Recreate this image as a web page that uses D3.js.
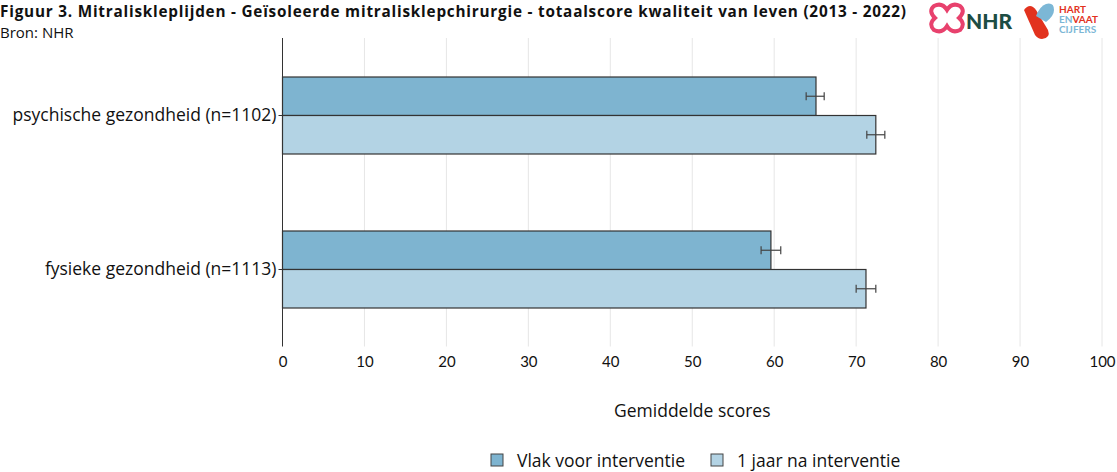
<!DOCTYPE html>
<html><head><meta charset="utf-8">
<script src="https://cdn.jsdelivr.net/npm/d3@7"></script>
<style>body{margin:0;background:#fff}svg{display:block;font-family:"Open Sans",Lato,sans-serif}</style>
</head><body>
<svg id="c" width="1117" height="472"></svg>
<script>
const categories = ["psychische gezondheid (n=1102)", "fysieke gezondheid (n=1113)"];
const seriesNames = ["Vlak voor interventie", "1 jaar na interventie"];
const valuesBefore = [65.1, 59.6];
const errBefore = [[63.9, 66.1], [58.4, 60.8]];
const valuesAfter = [72.4, 71.2];
const errAfter = [[71.3, 73.5], [70.0, 72.4]];
const xTicks = [0, 10, 20, 30, 40, 50, 60, 70, 80, 90, 100];
const colors = ["#7eb4d0", "#b3d3e4"];

const svg = d3.select("#c");
const x = d3.scaleLinear().domain([0, 100]).range([282.5, 1102]);
const y = d3.scaleBand().domain(categories).range([38.5, 346.5]).paddingInner(0.5).paddingOuter(0.25);
const sub = d3.scaleBand().domain([0, 1]).range([0, y.bandwidth()]);

const txtFont = '"Open Sans",sans-serif';
// title
svg.append("text").attr("x", 0).attr("y", 16.5).attr("font-weight", "bold").attr("font-size", 15.3)
  .attr("textLength", 906).attr("lengthAdjust", "spacing")
  .attr("fill", "#111").text("Figuur 3. Mitraliskleplijden - Geïsoleerde mitralisklepchirurgie - totaalscore kwaliteit van leven (2013 - 2022)");
svg.append("text").attr("x", 0).attr("y", 38).attr("font-size", 15).attr("fill", "#111").text("Bron: NHR");

// grid
svg.append("g").selectAll("line").data(xTicks.slice(1)).join("line")
  .attr("x1", d => x(d)).attr("x2", d => x(d)).attr("y1", 38).attr("y2", 346.5)
  .attr("stroke", "#e6e6e6").attr("stroke-width", 1);

// x axis labels
const xa = svg.append("g").attr("transform", "translate(0,346.5)")
  .call(d3.axisBottom(x).tickValues(xTicks).tickSize(0).tickPadding(10));
xa.select(".domain").remove();
xa.selectAll("text").attr("font-size", 15).attr("fill", "#111").attr("font-family", "Lato,sans-serif");

// bars
const data = categories.map((c, i) => ({c, v: [valuesBefore[i], valuesAfter[i]], e: [errBefore[i], errAfter[i]]}));
const g = svg.append("g");
data.forEach(d => {
  [0, 1].forEach(k => {
    const yy = y(d.c) + sub(k);
    g.append("rect").attr("x", x(0)).attr("y", yy).attr("width", x(d.v[k]) - x(0)).attr("height", sub.bandwidth())
      .attr("fill", colors[k]).attr("stroke", "#333").attr("stroke-width", 1.2);
    const cy = yy + sub.bandwidth() / 2;
    g.append("line").attr("x1", x(d.e[k][0])).attr("x2", x(d.e[k][1])).attr("y1", cy).attr("y2", cy).attr("stroke", "#444").attr("stroke-width", 1.2);
    d.e[k].forEach(ev => g.append("line").attr("x1", x(ev)).attr("x2", x(ev)).attr("y1", cy - 4).attr("y2", cy + 4).attr("stroke", "#444").attr("stroke-width", 1.2));
  });
});

// y axis
const ya = svg.append("g").attr("transform", `translate(${x(0)},0)`).call(d3.axisLeft(y).tickSize(4).tickPadding(2));
ya.select(".domain").attr("d", `M0,38V346.5`).attr("stroke", "#333");
ya.selectAll(".tick line").attr("stroke", "#333");
ya.selectAll("text").attr("font-size", 17.5).attr("fill", "#111").attr("font-family", txtFont);

// axis title
svg.append("text").attr("x", (x(0) + x(100)) / 2).attr("y", 417).attr("text-anchor", "middle").attr("font-size", 17.5).attr("fill", "#111").text("Gemiddelde scores");

// legend
const lx = [491, 711];
seriesNames.forEach((n, i) => {
  svg.append("rect").attr("x", lx[i]).attr("y", 454).attr("width", 12).attr("height", 12).attr("fill", colors[i]).attr("stroke", "#444").attr("stroke-width", 1);
  svg.append("text").attr("x", lx[i] + 26).attr("y", 467).attr("font-size", 17.5).attr("fill", "#111").text(n);
});

// logos
const lg = svg.append("g");
const pink = "#e8416d";
lg.append("path").attr("d", "M934,6 q8,-4 13,4 q5,-8 13,-4 q6,5 -1,12 q7,6 1,12 q-8,4 -13,-4 q-5,8 -13,4 q-6,-6 1,-12 q-7,-7 -1,-12 z")
  .attr("fill", "none").attr("stroke", pink).attr("stroke-width", 4);
lg.append("text").attr("x", 966).attr("y", 29).attr("font-weight", "900").attr("font-size", 21).attr("fill", "#1d4d44").attr("font-family", "Lato,sans-serif").text("NHR");
lg.append("path").attr("d", "M1024,10 q6,-8 12,0 l12,20 q3,8 -6,9 q-4,0 -7,-4 z").attr("fill", "#e2321e");
lg.append("path").attr("d", "M1036,16 q4,-10 10,-12 q8,-2 8,6 q0,6 -8,12 z").attr("fill", "#7cb7d6");
lg.append("text").attr("x", 1059).attr("y", 13).attr("font-size", 10).attr("font-weight", "bold").attr("fill", "#e2321e").attr("font-family", "Lato,sans-serif").text("HART");
const t2 = lg.append("text").attr("x", 1059).attr("y", 23).attr("font-size", 10).attr("font-weight", "bold").attr("font-family", "Lato,sans-serif");
t2.append("tspan").attr("fill", "#7cb7d6").text("EN");
t2.append("tspan").attr("fill", "#e2321e").text("VAAT");
lg.append("text").attr("x", 1059).attr("y", 33).attr("font-size", 10).attr("font-weight", "bold").attr("fill", "#7cb7d6").attr("font-family", "Lato,sans-serif").text("CIJFERS");
</script>
</body></html>
